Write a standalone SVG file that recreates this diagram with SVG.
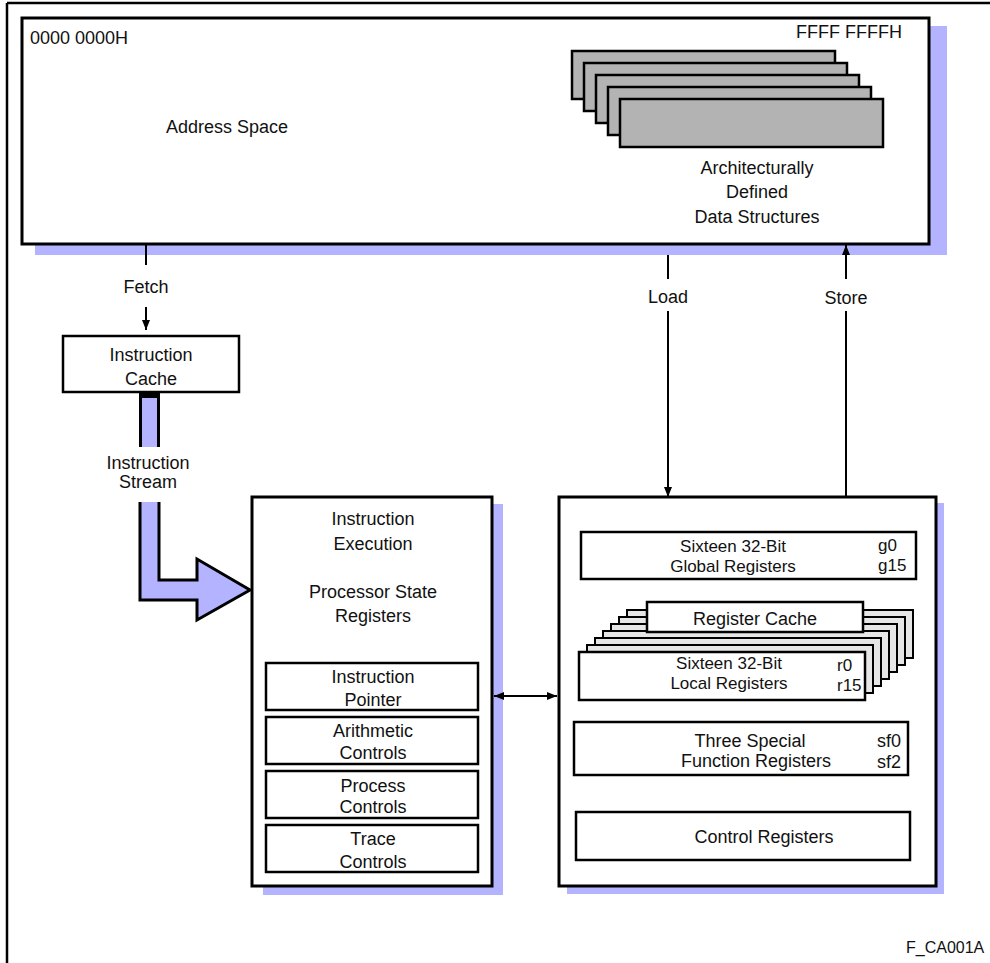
<svg xmlns="http://www.w3.org/2000/svg" width="990" height="963" viewBox="0 0 990 963">
<style>
  text { font-family: "Liberation Sans", Arial, sans-serif; font-size: 18px; fill: #111; }
  .c { text-anchor: middle; }
  .t { font-size: 17px; }
  .box { fill: #fff; stroke: #000; stroke-width: 3; }
  .sub { fill: #fff; stroke: #000; stroke-width: 2.5; }
  .shadow { fill: #b3b3ff; stroke: none; }
  .gray { fill: #b3b3b3; stroke: #000; stroke-width: 2.5; }
  .layer { fill: #e6e6e6; stroke: #000; stroke-width: 2; }
  .line { stroke: #000; stroke-width: 2; fill: none; }
</style>
<defs>
  <marker id="ah" markerUnits="userSpaceOnUse" markerWidth="10" markerHeight="10" viewBox="0 0 10 10" refX="10" refY="5" orient="auto-start-reverse">
    <path d="M0,1 L10,5 L0,9 Z" fill="#000"/>
  </marker>
</defs>

<g id="frame">
  <line x1="7" y1="3" x2="990" y2="3" stroke="#000" stroke-width="2.5"/>
  <line x1="7" y1="3" x2="7" y2="963" stroke="#000" stroke-width="2.5"/>
</g>

<g id="address-space">
  <rect class="shadow" x="35" y="26" width="912" height="229"/>
  <rect class="box" x="22" y="18" width="907" height="226"/>
  <text x="30" y="44">0000 0000H</text>
  <text x="902" y="38" text-anchor="end">FFFF FFFFH</text>
  <text x="166" y="133">Address Space</text>
</g>

<g id="data-structures">
  <rect class="gray" x="572" y="51" width="263" height="48"/>
  <rect class="gray" x="584" y="63" width="263" height="48"/>
  <rect class="gray" x="596" y="75" width="263" height="48"/>
  <rect class="gray" x="608" y="87" width="263" height="48"/>
  <rect class="gray" x="620" y="99" width="263" height="48"/>
  <text class="c" x="757" y="174">Architecturally</text>
  <text class="c" x="757" y="198">Defined</text>
  <text class="c" x="757" y="223">Data Structures</text>
</g>

<g id="instruction-cache">
  <rect class="sub" x="63" y="336" width="176" height="56"/>
  <text class="c" x="151" y="361">Instruction</text>
  <text class="c" x="151" y="385">Cache</text>
</g>

<g id="instruction-stream">
  <rect class="shadow" x="140" y="392" width="19" height="55"/>
  <line x1="140.5" y1="392" x2="140.5" y2="447" stroke="#000" stroke-width="3"/>
  <line x1="158.5" y1="392" x2="158.5" y2="447" stroke="#000" stroke-width="3"/>
  <rect x="139" y="392" width="21" height="6" fill="#000"/>
  <polygon points="140,502 140,600 197,600 197,620 250,590 197,559 197,580 159,580 159,502" fill="#b3b3ff"/>
  <polyline points="140,502 140,600 197,600 197,620 250,590 197,559 197,580 159,580 159,502" fill="none" stroke="#000" stroke-width="3" stroke-linejoin="miter"/>
  <text class="c" x="148" y="469">Instruction</text>
  <text class="c" x="148" y="488">Stream</text>
</g>

<g id="instruction-execution">
  <rect class="shadow" x="263" y="504" width="240" height="391"/>
  <rect class="box" x="252" y="497" width="240" height="389"/>
  <text class="c" x="373" y="525">Instruction</text>
  <text class="c" x="373" y="550">Execution</text>
  <text class="c" x="373" y="598">Processor State</text>
  <text class="c" x="373" y="622">Registers</text>
</g>

<g id="instruction-pointer">
  <rect class="sub" x="266" y="663" width="212" height="47"/>
  <text class="c" x="373" y="683">Instruction</text>
  <text class="c" x="373" y="706">Pointer</text>
</g>
<g id="arithmetic-controls">
  <rect class="sub" x="266" y="717" width="212" height="47"/>
  <text class="c" x="373" y="737">Arithmetic</text>
  <text class="c" x="373" y="759">Controls</text>
</g>
<g id="process-controls">
  <rect class="sub" x="266" y="771" width="212" height="47"/>
  <text class="c" x="373" y="792">Process</text>
  <text class="c" x="373" y="813">Controls</text>
</g>
<g id="trace-controls">
  <rect class="sub" x="266" y="825" width="212" height="47"/>
  <text class="c" x="373" y="845">Trace</text>
  <text class="c" x="373" y="868">Controls</text>
</g>

<g id="register-file">
  <rect class="shadow" x="567" y="503" width="377" height="391"/>
  <rect class="box" x="559" y="497" width="377" height="389"/>
</g>

<g id="global-registers">
  <rect class="sub" x="581" y="532" width="335" height="47"/>
  <text class="c t" x="733" y="552">Sixteen 32-Bit</text>
  <text class="c t" x="733" y="572">Global Registers</text>
  <text class="t" x="878" y="551">g0</text>
  <text class="t" x="878" y="571">g15</text>
</g>

<g id="register-cache-stack">
  <rect class="layer" x="627" y="610" width="286" height="48"/>
  <rect class="layer" x="619" y="617" width="286" height="48"/>
  <rect class="layer" x="611" y="624" width="286" height="48"/>
  <rect class="layer" x="603" y="631" width="286" height="48"/>
  <rect class="layer" x="595" y="638" width="286" height="48"/>
  <rect class="layer" x="587" y="645" width="286" height="48"/>
</g>
<g id="register-cache">
  <rect class="sub" x="647" y="602" width="216" height="30"/>
  <text class="c" x="755" y="625">Register Cache</text>
</g>
<g id="local-registers">
  <rect class="sub" x="579" y="652" width="286" height="48"/>
  <text class="c t" x="729" y="669">Sixteen 32-Bit</text>
  <text class="c t" x="729" y="689">Local Registers</text>
  <text class="t" x="837" y="671">r0</text>
  <text class="t" x="837" y="691">r15</text>
</g>

<g id="special-function-registers">
  <rect class="sub" x="574" y="722" width="334" height="53"/>
  <text class="c" x="750" y="747">Three Special</text>
  <text class="c" x="756" y="767">Function Registers</text>
  <text x="877" y="747">sf0</text>
  <text x="877" y="768">sf2</text>
</g>

<g id="control-registers">
  <rect class="sub" x="576" y="812" width="334" height="48"/>
  <text class="c" x="764" y="843">Control Registers</text>
</g>

<g id="connectors">
  <line class="line" x1="146" y1="244" x2="146" y2="265"/>
  <text class="c" x="146" y="293">Fetch</text>
  <line class="line" x1="146" y1="307" x2="146" y2="330" marker-end="url(#ah)"/>

  <line class="line" x1="668" y1="255" x2="668" y2="279"/>
  <text class="c" x="668" y="303">Load</text>
  <line class="line" x1="668" y1="311" x2="668" y2="497" marker-end="url(#ah)"/>

  <line class="line" x1="846" y1="497" x2="846" y2="311"/>
  <text class="c" x="846" y="304">Store</text>
  <line class="line" x1="846" y1="279" x2="846" y2="245" marker-end="url(#ah)"/>

  <line class="line" x1="494" y1="696" x2="557" y2="696" marker-start="url(#ah)" marker-end="url(#ah)"/>
</g>

<text x="906" y="953" style="font-size:16px">F_CA001A</text>
</svg>
